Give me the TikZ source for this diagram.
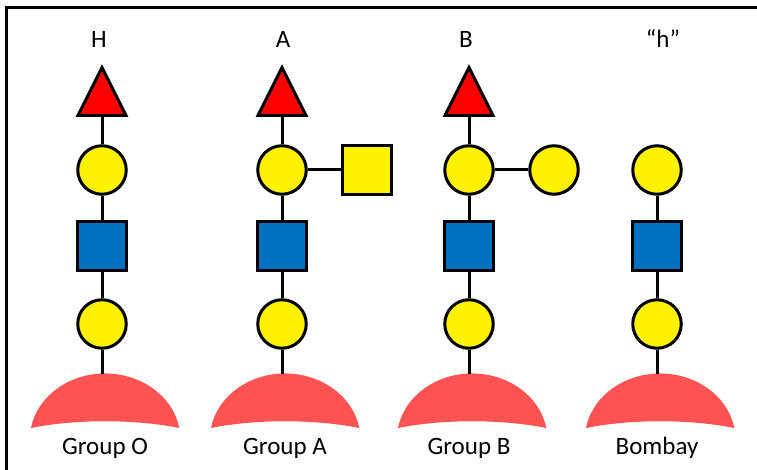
\documentclass[tikz,border=0pt]{standalone}
\usepackage{fontspec}
\setmainfont{Carlito}
\usetikzlibrary{shapes.geometric}
\definecolor{domered}{RGB}{255,82,82}
\definecolor{glcblue}{RGB}{0,112,192}
\tikzset{
  sugar/.style={draw=black, line width=3pt, inner sep=0pt},
  gal/.style={sugar, circle, fill=yellow, minimum size=48.5pt},
  galnac/.style={sugar, rectangle, fill=yellow, minimum size=49pt},
  glcnac/.style={sugar, rectangle, fill=glcblue, minimum size=49pt},
  fuc/.style={sugar, isosceles triangle, isosceles triangle apex angle=54,
    isosceles triangle stretches, shape border rotate=90,
    minimum width=48pt, minimum height=48pt, fill=red, anchor=lower side},
  link/.style={line width=3pt},
  lab/.style={font=\fontsize{25}{30}\selectfont, anchor=base},
}
\def\dome(#1){\fill[domered] (#1-74,428) arc[start angle=190, end angle=350, x radius=75.3, y radius=66]
  .. controls (#1+30,419) and (#1-30,419) .. (#1-74,428) -- cycle;}

\begin{document}
\begin{tikzpicture}[x=1pt, y=-1pt]
	%%%%% START %%%%%
	\useasboundingbox (0,0) rectangle (757,470);
	\draw[line width=2.5pt] (757,7.5) -- (6.5,7.5) -- (6.5,470);
	
	% group O
	\dome(105)
	\coordinate (o0) at (102,374);
	\node[gal] (o1) at (102,324) {};
	\node[glcnac] (o2) at (102,246) {};
	\node[gal] (o3) at (102,170) {};
	\node[fuc] (o4) at (102,117) {};
	\draw[link] (o0) -- (o1);
	\draw[link] (o1) -- (o2);
	\draw[link] (o2) -- (o3);
	\draw[link] (o3) -- (o4);
	\node[lab] (otop) at (99,48) {H};
	\node[lab] (obot) at (105,454) {Group O};
	
	% group A
	\dome(285)
	\coordinate (a0) at (282,374);
	\node[gal] (a1) at (282,324) {};
	\node[glcnac] (a2) at (282,246) {};
	\node[gal] (a3) at (282,170) {};
	\node[fuc] (a4) at (282,117) {};
	\node[galnac] (a5) at (367,170) {};
	\draw[link] (a0) -- (a1);
	\draw[link] (a1) -- (a2);
	\draw[link] (a2) -- (a3);
	\draw[link] (a3) -- (a4);
	\draw[link] (a3) -- (a5);
	\node[lab] (atop) at (283,48) {A};
	\node[lab] (abot) at (285,454) {Group A};
	
	% group B
	\dome(472)
	\coordinate (b0) at (469,374);
	\node[gal] (b1) at (469,324) {};
	\node[glcnac] (b2) at (469,246) {};
	\node[gal] (b3) at (469,170) {};
	\node[fuc] (b4) at (469,117) {};
	\node[gal] (b5) at (554,170) {};
	\draw[link] (b0) -- (b1);
	\draw[link] (b1) -- (b2);
	\draw[link] (b2) -- (b3);
	\draw[link] (b3) -- (b4);
	\draw[link] (b3) -- (b5);
	\node[lab] (btop) at (466,48) {B};
	\node[lab] (bbot) at (469,454) {Group B};
	
	% bombay
	\dome(660)
	\coordinate (h0) at (657,374);
	\node[gal] (h1) at (657,324) {};
	\node[glcnac] (h2) at (657,246) {};
	\node[gal] (h3) at (657,170) {};
	\draw[link] (h0) -- (h1);
	\draw[link] (h1) -- (h2);
	\draw[link] (h2) -- (h3);
	\node[lab] (htop) at (663,48) {“h”};
	\node[lab] (hbot) at (657,454) {Bombay};
	%%%%% END %%%%%
\end{tikzpicture}
\end{document}
